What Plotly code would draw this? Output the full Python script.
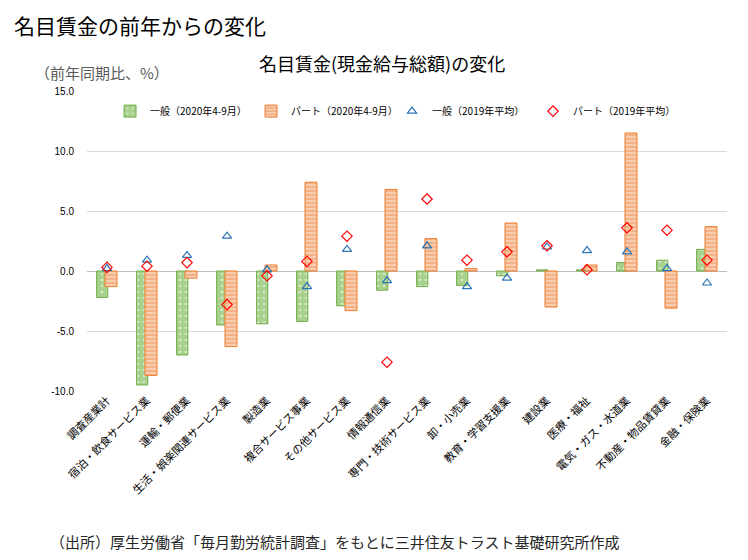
import plotly.graph_objects as go

categories = ["調査産業計", "宿泊・飲食サービス業", "運輸・郵便業", "生活・娯楽関連サービス業",
              "製造業", "複合サービス事業", "その他サービス業", "情報通信業",
              "専門・技術サービス業", "卸・小売業", "教育・学習支援業", "建設業",
              "医療・福祉", "電気・ガス・水道業", "不動産・物品賃貸業", "金融・保険業"]
general_2020 = [-2.2, -9.5, -7.0, -4.5, -4.4, -4.2, -2.9, -1.6, -1.3, -1.2, -0.4, 0.1, 0.1, 0.7, 0.9, 1.8]
part_2020 = [-1.3, -8.7, -0.6, -6.3, 0.5, 7.4, -3.3, 6.8, 2.7, 0.2, 4.0, -3.0, 0.5, 11.5, -3.1, 3.7]
general_2019 = [0.2, 0.9, 1.3, 2.9, 0.1, -1.3, 1.8, -0.8, 2.1, -1.3, -0.6, 2.0, 1.7, 1.6, 0.2, -1.0]
part_2019 = [0.3, 0.4, 0.7, -2.8, -0.4, 0.8, 2.9, -7.6, 6.0, 0.9, 1.6, 2.1, 0.1, 3.6, 3.4, 0.9]
ytick_vals = [-10, -5, 0, 5, 10, 15]

FONT = "Noto Sans CJK JP"
x = list(range(len(categories)))

fig = go.Figure()
fig.add_trace(go.Bar(
    x=x, y=general_2020, name="一般（2020年4-9月）",
    width=0.28, offset=-0.26,
    marker=dict(color="#a9d18e", line=dict(color="#70ad47", width=1),
                pattern=dict(shape=".", fgcolor="white", size=6, solidity=0.15)),
))
fig.add_trace(go.Bar(
    x=x, y=part_2020, name="パート（2020年4-9月）",
    width=0.3, offset=-0.05,
    marker=dict(color="#f4b183", line=dict(color="#ed7d31", width=1),
                pattern=dict(shape="-", fgcolor="white", size=4, solidity=0.35)),
))
fig.add_trace(go.Scatter(
    x=x, y=general_2019, name="一般（2019年平均）", mode="markers",
    marker=dict(symbol="triangle-up-open", size=8, color="#2e75b6", line=dict(width=1.2)),
))
fig.add_trace(go.Scatter(
    x=x, y=part_2019, name="パート（2019年平均）", mode="markers",
    marker=dict(symbol="diamond-open", size=8, color="#ff0000", line=dict(width=1.2)),
))

fig.update_layout(
    width=740, height=552,
    margin=dict(l=79, r=21, t=83, b=169),
    barmode="overlay",
    plot_bgcolor="white", paper_bgcolor="white",
    font=dict(family=FONT, color="#000000"),
    showlegend=True,
    legend=dict(orientation="h", x=0.036, y=0.933, xanchor="left", yanchor="middle",
                font=dict(size=10, family=FONT), bgcolor="rgba(0,0,0,0)",
                entrywidth=96, itemwidth=30, traceorder="normal"),
    annotations=[
        dict(text="名目賃金の前年からの変化", xref="paper", yref="paper", x=-0.117, y=1.2767,
             xanchor="left", yanchor="top", showarrow=False, font=dict(size=21, family=FONT)),
        dict(text="名目賃金(現金給与総額)の変化", xref="paper", yref="paper", x=0.461, y=1.093,
             xanchor="center", yanchor="middle", showarrow=False, font=dict(size=18, family=FONT)),
        dict(text="（前年同期比、%）", xref="paper", yref="paper", x=-0.085, y=1.063,
             xanchor="left", yanchor="middle", showarrow=False, font=dict(size=15, family=FONT, color="#595959")),
        dict(text="（出所）厚生労働省「毎月勤労統計調査」をもとに三井住友トラスト基礎研究所作成",
             xref="paper", yref="paper", x=-0.061, y=-0.5, xanchor="left", yanchor="middle",
             showarrow=False, font=dict(size=15, family=FONT, color="#262626")),
    ],
)
fig.update_xaxes(
    tickmode="array", tickvals=x, ticktext=categories, tickangle=-45,
    range=[-0.5, len(categories) - 0.5], showgrid=False, zeroline=False,
    tickfont=dict(size=11, family=FONT), ticks="", showline=False,
)
fig.update_yaxes(
    range=[-10, 15], tickmode="array", tickvals=ytick_vals,
    ticktext=[f"{v:.1f}".replace("−", "-") for v in ytick_vals],
    showgrid=True, gridcolor="#d9d9d9", gridwidth=1,
    zeroline=True, zerolinecolor="#bfbfbf", zerolinewidth=1,
    tickfont=dict(size=10, family="Liberation Sans"), ticks="", ticklabelstandoff=12,
)

fig.write_html("out.html")
